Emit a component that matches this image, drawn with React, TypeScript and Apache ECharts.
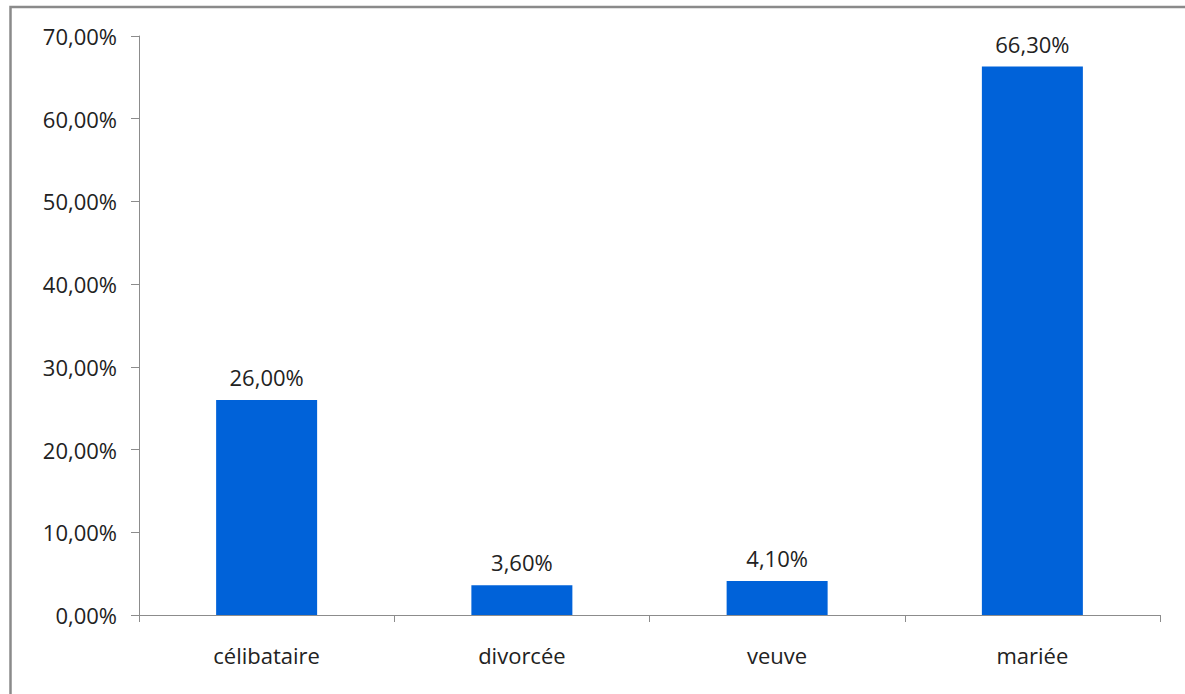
import React, { useEffect, useRef } from "react";
import * as echarts from "echarts";

const categories = ["célibataire", "divorcée", "veuve", "mariée"];
const values = [26.0, 3.6, 4.1, 66.3];
const yTicks = { min: 0, max: 70, interval: 10 };

const fmt = (v: number) => `${v.toFixed(2).replace(".", ",")}%`;

export default function App() {
  const ref = useRef<HTMLDivElement>(null);
  useEffect(() => {
    if (!ref.current) return;
    const chart = echarts.init(ref.current, null, { renderer: "svg" });
    const font = "'Open Sans', sans-serif";
    chart.setOption({
      animation: false,
      backgroundColor: "#ffffff",
      textStyle: { fontFamily: font },
      graphic: [
        {
          type: "rect",
          shape: { x: 10.5, y: 7, width: 1300, height: 800 },
          style: { fill: "none", stroke: "#8a8a8a", lineWidth: 2.5 },
          silent: true,
        },
      ],
      grid: { left: 139, right: 25, top: 36, bottom: 79, containLabel: false },
      xAxis: {
        type: "category",
        data: categories,
        axisLine: { show: true, lineStyle: { color: "#8c8c8c", width: 1 } },
        axisTick: { show: true, alignWithLabel: false, length: 7, lineStyle: { color: "#8c8c8c" } },
        axisLabel: { color: "#222", fontSize: 22, fontFamily: font, margin: 29 },
        splitLine: { show: false },
      },
      yAxis: {
        type: "value",
        min: yTicks.min,
        max: yTicks.max,
        interval: yTicks.interval,
        axisLine: { show: true, lineStyle: { color: "#8c8c8c", width: 1 } },
        axisTick: { show: true, length: 8, lineStyle: { color: "#8c8c8c" } },
        axisLabel: { color: "#222", fontSize: 22, fontFamily: font, margin: 22, formatter: fmt },
        splitLine: { show: false },
      },
      series: [
        {
          type: "bar",
          data: values,
          barWidth: 101,
          itemStyle: { color: "#0062d9" },
          label: {
            show: true,
            position: "top",
            distance: 12,
            color: "#222",
            fontSize: 22,
            fontFamily: font,
            formatter: (p: any) => fmt(p.value),
          },
        },
      ],
    });
    return () => chart.dispose();
  }, []);
  return (
    <div
      ref={ref}
      style={{ position: "fixed", left: 0, top: 0, width: 1185, height: 694 }}
    />
  );
}
